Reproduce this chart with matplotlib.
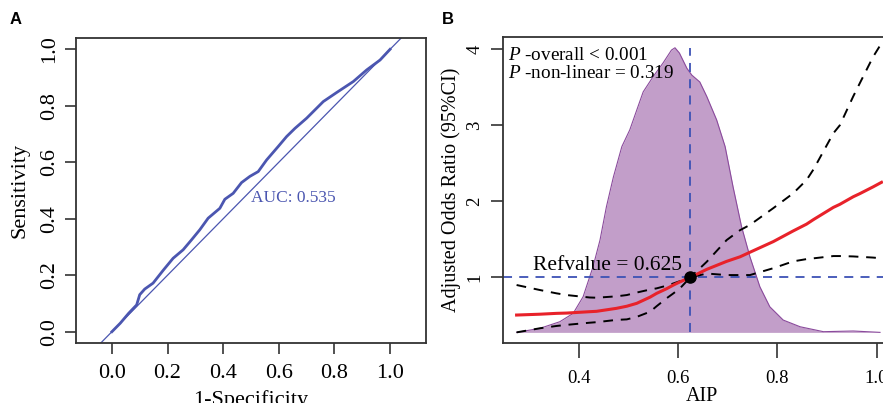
import numpy as np
import matplotlib
matplotlib.use("Agg")
import matplotlib.pyplot as plt

plt.rcParams['font.family'] = ['Liberation Serif', 'DejaVu Serif']
plt.rcParams['mathtext.fontset'] = 'custom'
plt.rcParams['mathtext.it'] = 'Liberation Serif:italic'
plt.rcParams['mathtext.rm'] = 'Liberation Serif'

# ---- panel A: ROC curve ----
fpr = [0.0, 0.03, 0.06, 0.089, 0.10, 0.118, 0.148, 0.184, 0.22, 0.256, 0.286,
       0.316, 0.346, 0.388, 0.406, 0.436, 0.466, 0.496, 0.526, 0.556, 0.598,
       0.628, 0.658, 0.70, 0.76, 0.808, 0.868, 0.916, 0.964, 1.0]
tpr = [0.0, 0.03, 0.065, 0.095, 0.131, 0.151, 0.172, 0.217, 0.26, 0.29, 0.325,
       0.361, 0.402, 0.437, 0.469, 0.49, 0.528, 0.55, 0.567, 0.608, 0.656,
       0.691, 0.72, 0.756, 0.815, 0.847, 0.886, 0.927, 0.962, 1.0]
auc_label = "AUC: 0.535"

# ---- panel B: restricted cubic spline ----
aip = [0.275, 0.322, 0.355, 0.376, 0.422, 0.436, 0.476, 0.497, 0.517, 0.544,
       0.557, 0.577, 0.591, 0.604, 0.625, 0.658, 0.698, 0.725, 0.745, 0.792,
       0.832, 0.859, 0.873, 0.913, 0.926, 0.953, 0.966, 0.993, 1.01]
odds = [0.504, 0.515, 0.526, 0.53, 0.548, 0.553, 0.592, 0.62, 0.658, 0.74,
        0.789, 0.85, 0.899, 0.94, 1.0, 1.105, 1.21, 1.27, 1.33, 1.47,
        1.61, 1.70, 1.76, 1.92, 1.96, 2.06, 2.10, 2.19, 2.25]
upper = [0.899, 0.833, 0.79, 0.767, 0.735, 0.732, 0.75, 0.767, 0.80, 0.84,
         0.855, 0.89, 0.92, 0.95, 1.0, 1.205, 1.49, 1.62, 1.69, 1.91,
         2.105, 2.28, 2.42, 2.895, 3.0, 3.38, 3.55, 3.90, 4.08]
lower = [0.276, 0.33, 0.36, 0.375, 0.403, 0.41, 0.44, 0.447, 0.48, 0.548,
         0.62, 0.724, 0.79, 0.855, 1.0, 1.05, 1.03, 1.03, 1.03, 1.12,
         1.21, 1.24, 1.25, 1.28, 1.28, 1.275, 1.27, 1.26, 1.25]

dens_x = [0.275, 0.322, 0.362, 0.389, 0.409, 0.429, 0.443, 0.456, 0.470, 0.487,
          0.503, 0.517, 0.530, 0.550, 0.570, 0.587, 0.594, 0.603, 0.618, 0.628,
          0.644, 0.658, 0.678, 0.695, 0.711, 0.728, 0.745, 0.765, 0.785, 0.812,
          0.846, 0.893, 0.953, 1.007]
dens_y = [0.276, 0.329, 0.416, 0.526, 0.745, 1.14, 1.49, 1.93, 2.32, 2.72,
          2.94, 3.20, 3.44, 3.64, 3.82, 3.99, 4.02, 3.95, 3.75, 3.66,
          3.57, 3.38, 3.07, 2.72, 2.19, 1.67, 1.27, 0.876, 0.613, 0.438,
          0.35, 0.285, 0.294, 0.276]
refvalue = 0.625

fig = plt.figure(figsize=(8.83, 4.03), dpi=100)

spine_col = '#333333'

# ----- A -----
axA = fig.add_axes([0.0861, 0.1489, 0.3963, 0.7568])
roc_col = '#4b56b0'
axA.axline((0, 0), (1, 1), color=roc_col, lw=0.9)
axA.plot(fpr, tpr, color=roc_col, lw=2.0)
axA.text(0.50, 0.46, auc_label, color=roc_col, fontsize=12.5,
         ha='left', va='baseline')
axA.set_xlim(-0.129, 1.129)
axA.set_ylim(-0.04, 1.04)
axA.set_xticks(np.arange(0, 1.01, 0.2))
axA.set_yticks(np.arange(0, 1.01, 0.2))
axA.set_xticklabels(['0.0', '0.2', '0.4', '0.6', '0.8', '1.0'])
axA.set_yticklabels(['0.0', '0.2', '0.4', '0.6', '0.8', '1.0'],
                    rotation=90, va='center')
axA.tick_params(labelsize=16, length=8, width=1.2, color=spine_col)
axA.tick_params(axis='x', pad=7)
axA.tick_params(axis='y', pad=4)
axA.set_xlabel('1-Specificity', fontsize=16, labelpad=5)
axA.set_ylabel('Sensitivity', fontsize=16, labelpad=8)
for s in axA.spines.values():
    s.set_color(spine_col)
    s.set_linewidth(1.3)

# ----- B -----
axB = fig.add_axes([0.5693, 0.1496, 0.4515, 0.7594])
axB.fill_between(dens_x, dens_y, dens_y[0], color='#c29ec9', lw=0)
axB.plot(dens_x, dens_y, color='#8a4a9c', lw=0.8)
axB.axhline(1, color='#3d52b5', ls=(0, (5, 4)), lw=1.3)
axB.plot([refvalue, refvalue], [dens_y[0], max(dens_y)], color='#3d52b5',
         ls=(0, (5, 4)), lw=1.3)
axB.plot(aip, upper, color='black', ls=(0, (5, 4)), lw=1.4)
axB.plot(aip, lower, color='black', ls=(0, (5, 4)), lw=1.4)
axB.plot(aip, odds, color='#e8222a', lw=2.2)
axB.plot([refvalue], [1], 'o', color='black', ms=8)
axB.text(0.459, 1.09, 'Refvalue = 0.625', fontsize=15.5, ha='center',
         va='baseline')
axB.text(0.2576, 3.86, '$\\it{P}$ -overall < 0.001', fontsize=13.8,
         ha='left', va='baseline')
axB.text(0.2576, 3.62, '$\\it{P}$ -non-linear = 0.319', fontsize=13.8,
         ha='left', va='baseline')
axB.set_xlim(0.247, 1.05)
axB.set_ylim(0.14, 4.166)
axB.set_xticks([0.4, 0.6, 0.8, 1.0])
axB.set_xticklabels(['0.4', '0.6', '0.8', '1.0'])
axB.set_yticks([1, 2, 3, 4])
axB.set_yticklabels(['1', '2', '3', '4'], rotation=90, va='center')
axB.tick_params(labelsize=13.5, width=1.2, color=spine_col)
axB.tick_params(axis='x', length=11, pad=9)
axB.tick_params(axis='y', length=9, pad=5)
axB.set_xlabel('AIP', fontsize=14.5, labelpad=0)
axB.set_ylabel('Adjusted Odds Ratio (95%CI)', fontsize=14.5, labelpad=4)
for s in axB.spines.values():
    s.set_color(spine_col)
    s.set_linewidth(1.3)

fig.text(0.011, 0.94, 'A', fontsize=12, fontweight='bold',
         family='Liberation Sans')
fig.text(0.5, 0.94, 'B', fontsize=12, fontweight='bold',
         family='Liberation Sans')

fig.savefig('out.png', dpi=100)
